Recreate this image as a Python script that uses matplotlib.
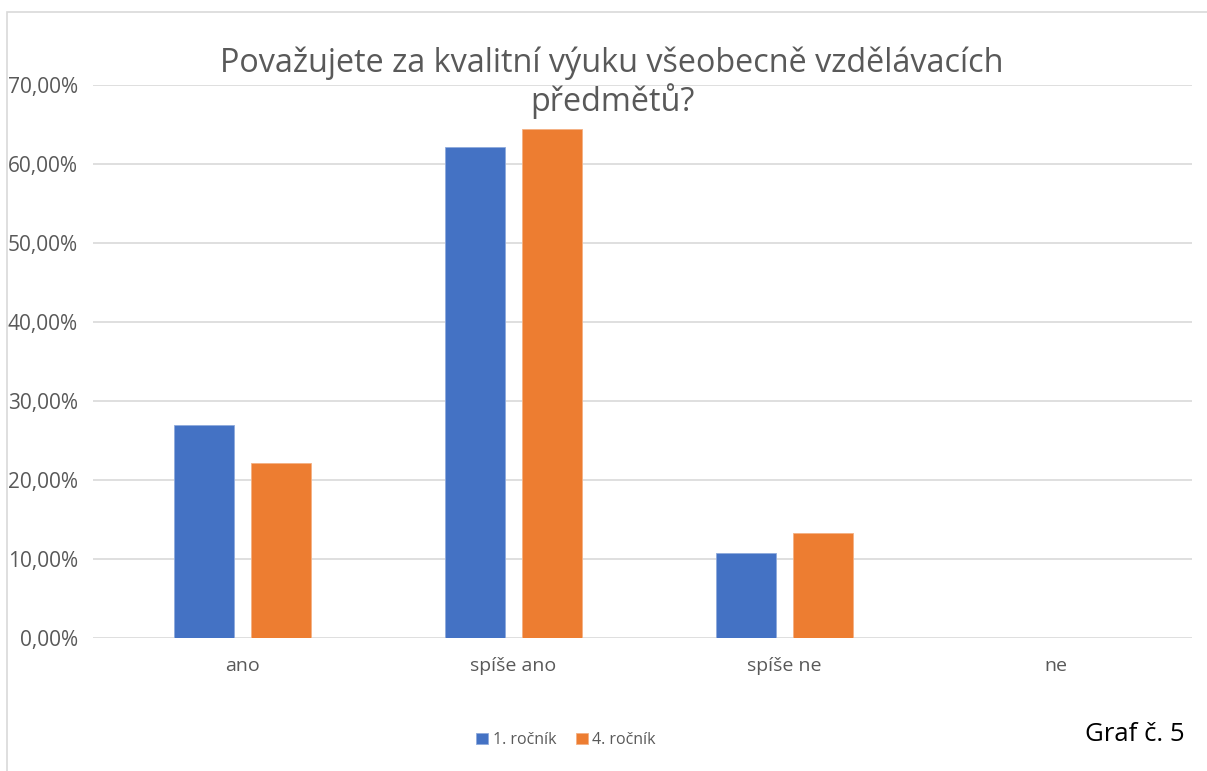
import matplotlib.pyplot as plt
import matplotlib.patches as patches
import numpy as np
from matplotlib.ticker import FuncFormatter

categories = ["ano", "spíše ano", "spíše ne", "ne"]
rocnik1 = [27.0, 62.2, 10.7, 0.0]
rocnik4 = [22.2, 64.4, 13.3, 0.0]
series_names = ["1. ročník", "4. ročník"]

plt.rcParams["font.family"] = ["Open Sans", "DejaVu Sans"]

fig = plt.figure(figsize=(12.07, 7.71), dpi=100)
ax = fig.add_axes([0.0771, 0.1725, 0.9105, 0.7173])

x = np.arange(len(categories))
w = 0.221
off = 0.142
ax.bar(x - off, rocnik1, w, color="#4472C4", edgecolor="#8FAADC", linewidth=0.6,
       label=series_names[0], zorder=3)
ax.bar(x + off, rocnik4, w, color="#ED7D31", edgecolor="#F4B183", linewidth=0.6,
       label=series_names[1], zorder=3)

ax.set_xlim(-0.552, 3.504)
ax.set_ylim(0, 70)
ax.set_yticks(np.arange(0, 71, 10))
ax.yaxis.set_major_formatter(FuncFormatter(lambda v, p: f"{v:.2f}%".replace(".", ",")))
ax.set_xticks(x)
ax.set_xticklabels(categories)
ax.grid(axis="y", color="#D9D9D9", linewidth=1.2, zorder=0)
for s in ax.spines.values():
    s.set_visible(False)
ax.tick_params(length=0, colors="#595959")
ax.tick_params(axis="x", pad=14, labelsize=14)
ax.tick_params(axis="y", pad=11, labelsize=15)

fig.text(0.507, 0.893, "Považujete za kvalitní výuku všeobecně vzdělávacích\npředmětů?",
         ha="center", va="center", fontsize=23.3, color="#595959", linespacing=1.12)

fig.legend(loc="center", bbox_to_anchor=(0.469, 0.040), ncol=2, frameon=False,
           fontsize=11.5, labelcolor="#595959", handlelength=0.75, handleheight=0.75,
           handletextpad=0.3, columnspacing=1.2)

fig.text(0.899, 0.047, "Graf č. 5", fontsize=18.5, color="black", ha="left", va="center")

fig.patches.append(patches.Rectangle((0.006, -0.01), 1.1, 0.995, transform=fig.transFigure,
                                     fill=False, edgecolor="#D9D9D9", linewidth=1.2))

fig.savefig("out.png", dpi=100)
